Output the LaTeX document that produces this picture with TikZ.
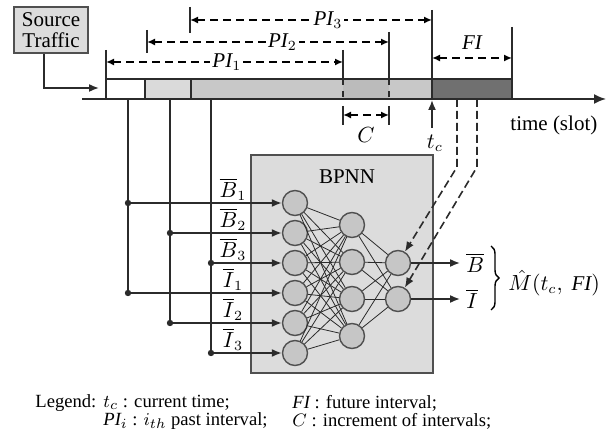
\documentclass[tikz,border=0pt]{standalone}
\usepackage{amsmath,amssymb}
\usepackage{fontspec}
\setmainfont{Liberation Serif}
\usepackage{tikz}
\usetikzlibrary{positioning,arrows.meta,calc,decorations.pathreplacing}
\definecolor{ink}{HTML}{2B2B2B}
\definecolor{frame}{HTML}{505050}
\definecolor{boxbg}{HTML}{DCDCDC}
\definecolor{cellA}{HTML}{DADADA}
\definecolor{cellB}{HTML}{C8C8C8}
\definecolor{cellC}{HTML}{BBBBBB}
\definecolor{future}{HTML}{707070}
\definecolor{neuron}{HTML}{C6C6C6}
\tikzset{
  unit/.style  ={circle, draw=frame, fill=neuron, line width=0.7pt, minimum size=12.5pt, inner sep=0pt},
  srcbox/.style={draw=frame, fill=boxbg, line width=1.2pt, align=center, inner sep=1pt, minimum width=37pt, minimum height=23pt, font=\fontsize{10.5}{10.5}\selectfont},
  lab/.style   ={font=\fontsize{10.5}{12}\selectfont, inner sep=1pt},
  leglab/.style={font=\fontsize{9.3}{11}\selectfont, inner sep=0pt, anchor=west},
  spanarr/.style={dash pattern=on 4pt off 2.5pt, line width=0.8pt, arrows={Latex[length=4pt,width=3.5pt]-Latex[length=4pt,width=3.5pt]}},
  tickln/.style={line width=0.8pt, ink},
  tapln/.style ={line width=0.8pt, ink},
  feedarr/.style={line width=0.8pt, ink, arrows={-Latex[length=5pt,width=4pt]}},
  wire/.style  ={line width=0.4pt, ink},
  brc/.style   ={decorate, decoration={brace, amplitude=4pt}, line width=0.7pt},
  >=Latex,
}

\begin{document}
\begin{tikzpicture}[x=0.5pt,y=-0.5pt]
\useasboundingbox (0,0) rectangle (608,442);

% time bar
\fill[white]  (106,79) rectangle (145,99);
\fill[cellA]  (145,79) rectangle (191,99);
\fill[cellB]  (191,79) rectangle (343,99);
\fill[cellC]  (343,79) rectangle (389,99);
\fill[cellB]  (389,79) rectangle (432,99);
\fill[future] (432,79) rectangle (512,99);
\draw[tickln] (106,79) -- (512,79);
\draw[tickln] (145,79) -- (145,99);
\draw[tickln] (191,79) -- (191,99);
\draw[tickln,dashed] (343,79) -- (343,99);
\draw[tickln,dashed] (389,79) -- (389,99);

\coordinate (t0) at (82,99);
\coordinate (tend) at (606,99);
\draw[line width=0.9pt, ink, arrows={-Latex[length=6pt,width=5pt]}] (t0) -- (tend);
\node[lab, anchor=west] (tslot) at (508,125) {time (slot)};

% ticks
\draw[tickln] (106,50) -- (106,99);
\draw[tickln] (147,30) -- (147,53);
\draw[tickln] (190,7) -- (190,33);
\draw[tickln] (343,50) -- (343,79);
\draw[tickln] (389,32) -- (389,79);
\draw[tickln] (432,10) -- (432,99);
\draw[tickln] (512,27) -- (512,99);
\draw[tickln] (343,106) -- (343,125);
\draw[tickln] (389,106) -- (389,125);

% intervals
\coordinate (p1a) at (106,62);  \coordinate (p1b) at (343,62);
\coordinate (p2a) at (147,42);  \coordinate (p2b) at (389,42);
\coordinate (p3a) at (190,20);  \coordinate (p3b) at (432,20);
\coordinate (fia) at (432,58);  \coordinate (fib) at (512,58);
\coordinate (ca)  at (343,115); \coordinate (cb)  at (389,115);
\draw[spanarr] (p1a) -- node[lab, fill=white, pos=0.51] (pi1) {$\mathit{PI}_1$} (p1b);
\draw[spanarr] (p2a) -- node[lab, fill=white, pos=0.56] (pi2) {$\mathit{PI}_2$} (p2b);
\draw[spanarr] (p3a) -- node[lab, fill=white, pos=0.57] (pi3) {$\mathit{PI}_3$} (p3b);
\draw[spanarr] (fia) -- node[lab, above=3pt] (fi) {$\mathit{FI}$} (fib);
\draw[spanarr] (ca) -- node[lab, below=5pt] (cinc) {$C$} (cb);

% current time
\coordinate (tcbase) at (432,128);
\draw[feedarr] (tcbase) -- (432,100);
\node[lab] (tc) at (435,143) {$t_c$};

% source
\node[srcbox] (src) at (51,30) {Source\\Traffic};
\coordinate (entry) at (99,88);
\draw[feedarr] ([xshift=-3.5pt]src.south) |- (entry);

% BPNN
\draw[frame, fill=boxbg, line width=1pt] (251,155) rectangle (433,373);
\node[lab] (bpnn) at (347,177) {BPNN};
\foreach \i/\y in {1/203,2/233,3/263,4/293,5/323,6/353}
  \node[unit] (in\i) at (295,\y) {};
\foreach \j/\y in {1/225,2/262,3/299,4/336}
  \node[unit] (hid\j) at (352,\y) {};
\node[unit] (out1) at (398,263) {};
\node[unit] (out2) at (398,299) {};
\foreach \i in {1,...,6}
  \foreach \j in {1,...,4}
    \draw[wire] (in\i) -- (hid\j);
\foreach \j in {1,...,4}
  \foreach \k in {1,2}
    \draw[wire] (hid\j) -- (out\k);

% inputs
\coordinate (d1) at (128,99);
\coordinate (d2) at (170,99);
\coordinate (d3) at (211,99);
\foreach \i/\x/\y/\t in {1/128/203/{$\overline{B}_1$},2/170/233/{$\overline{B}_2$},3/211/263/{$\overline{B}_3$},
                          4/128/293/{$\overline{I}_1$},5/170/323/{$\overline{I}_2$},6/211/353/{$\overline{I}_3$}}{
  \coordinate (tap\i) at (\x,\y);
  \fill[ink] (tap\i) circle (1.6pt);
  \draw[feedarr] (tap\i) -- (in\i);
  \node[lab, above] (inlab\i) at (233,\y) {\t};
}
\draw[tapln] (d1) -- (tap4);
\draw[tapln] (d2) -- (tap5);
\draw[tapln] (d3) -- (tap6);

% outputs
\node[lab, anchor=west, inner sep=3pt] (Bhat) at (460,263) {$\overline{B}$};
\node[lab, anchor=west, inner sep=3pt] (Ihat) at (460,299) {$\overline{I}$};
\draw[feedarr] (out1) -- (Bhat);
\draw[feedarr] (out2) -- (Ihat);
\coordinate (br1) at (491,246);
\coordinate (br2) at (491,310);
\draw[brc] (br1) -- (br2);
\node[lab, anchor=west] (mhat) at (506,283) {$\hat{M}(t_c,\ \mathit{FI})$};

% prediction feedback
\coordinate (f1) at (457,99);
\coordinate (f2) at (477,99);
\draw[feedarr, dash pattern=on 4pt off 2pt] (f1) -- (457,167) -- (out1);
\draw[feedarr, dash pattern=on 4pt off 2pt] (f2) -- (477,167) -- (out2);

% legend
\node[leglab] (leg) at (35,403) {Legend:};
\node[leglab] (lg1) at (103,403) {$t_c$ : current time;};
\node[leglab] (lg2) at (103,421) {$\mathit{PI}_i$ : $i_{th}$ past interval;};
\node[leglab] (lg3) at (292,403) {$\mathit{FI}$ : future interval;};
\node[leglab] (lg4) at (292,421) {$C$ : increment of intervals;};
\end{tikzpicture}
\end{document}
